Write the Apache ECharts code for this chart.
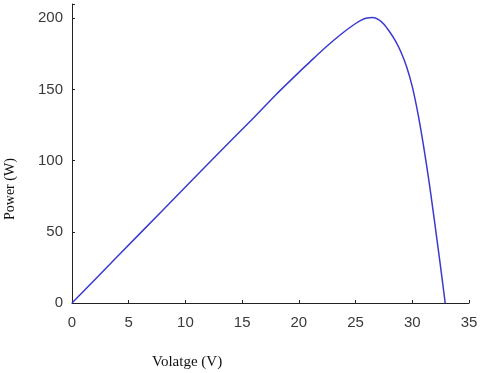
<!DOCTYPE html>
<html>
<head>
<meta charset="utf-8">
<script src="https://cdn.jsdelivr.net/npm/echarts@6/dist/echarts.min.js"></script>
<style>
  html, body { margin: 0; padding: 0; background: #fff; }
  #main { width: 484px; height: 373px; }
</style>
</head>
<body>
<div id="main"></div>
<script>
// voltage (V) and power (W)
const voltage = [0, 4, 8, 12, 16, 18, 20, 21, 22, 23, 24, 25, 25.5, 26, 26.5, 27, 27.5, 28, 28.5, 29, 29.5, 30, 30.5, 31, 31.5, 32, 32.5, 32.9];
const power = [0, 32.6, 65.2, 97.8, 130, 146.5, 162, 169.5, 177, 184, 190.5, 196.3, 198.7, 200.2, 200.5, 199.2, 195.8, 190.5, 184.3, 176.3, 166, 152, 133, 110, 84, 55, 25, 0];
const xTicks = [0, 5, 10, 15, 20, 25, 30, 35];
const yTicks = [0, 50, 100, 150, 200];

const chart = echarts.init(document.getElementById('main'));
const tickFont = { fontFamily: 'Liberation Sans', fontSize: 15, color: '#3a3a3a' };

chart.setOption({
    animation: false,
    grid: { left: 72, right: 15, top: 4, bottom: 70 },
    xAxis: {
        type: 'value',
        min: xTicks[0],
        max: xTicks[xTicks.length - 1],
        interval: 5,
        axisLine: { show: true, lineStyle: { color: '#222', width: 1 } },
        axisTick: { show: true, inside: true, length: 3, lineStyle: { color: '#222' } },
        axisLabel: Object.assign({ margin: 12 }, tickFont),
        splitLine: { show: false }
    },
    yAxis: {
        type: 'value',
        min: 0,
        max: 210,
        interval: 50,
        axisLine: { show: true, lineStyle: { color: '#222', width: 1 } },
        axisTick: { show: true, inside: true, length: 3, lineStyle: { color: '#222' } },
        axisLabel: Object.assign({
            margin: 9,
            formatter: v => yTicks.includes(v) ? String(v) : ''
        }, tickFont),
        splitLine: { show: false }
    },
    graphic: [
        {
            type: 'text',
            left: 152, top: 355,
            style: { text: 'Volatge (V)', font: '15px "Liberation Serif"', fill: '#111' }
        },
        {
            type: 'text',
            x: 3, y: 220,
            rotation: Math.PI / 2,
            style: { text: 'Power (W)', font: '14px "Liberation Serif"', fill: '#111', verticalAlign: 'top' }
        }
    ],
    series: [{
        type: 'line',
        data: voltage.map((v, i) => [v, power[i]]),
        smooth: 0.25,
        symbol: 'none',
        lineStyle: { color: '#3a3ad0', width: 1.5 }
    }]
});
</script>
</body>
</html>
